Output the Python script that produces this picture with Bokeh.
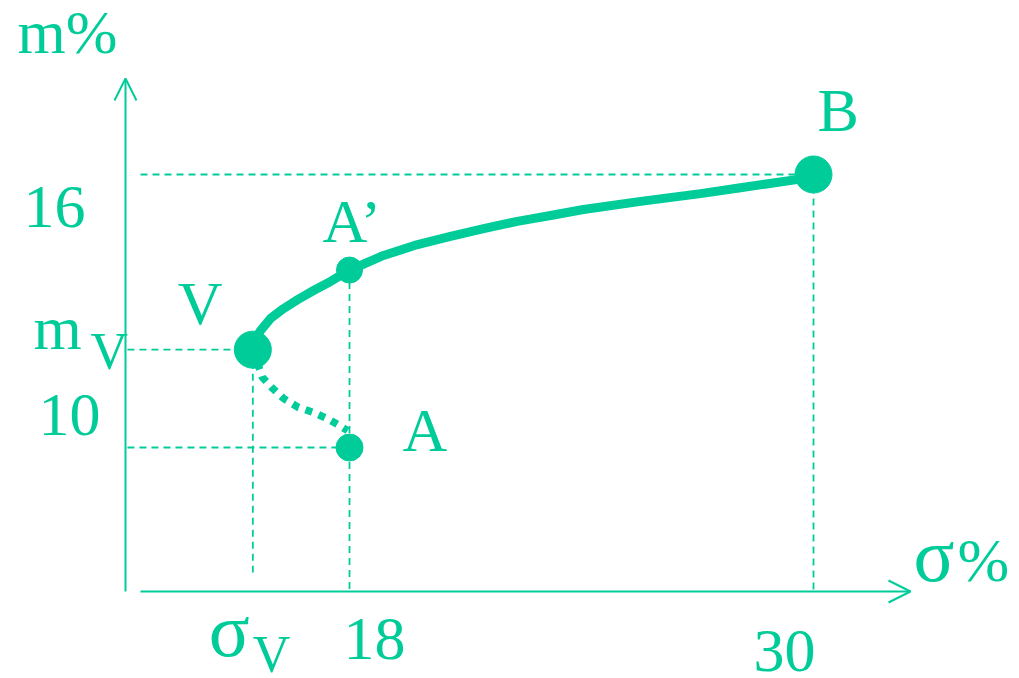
from bokeh.plotting import figure
from bokeh.models import Range1d, Arrow, OpenHead, ColumnDataSource
from bokeh.core.properties import value
from bokeh.embed import file_html
from bokeh.resources import INLINE

# ---------------- data ----------------
point_names = ["A", "A\u2019", "V", "B"]
point_sigma = [18, 18, 15.5, 30]
point_m = [10, 13.9, 12.15, 16]
point_sizes = [27, 26, 37, 37]

frontier_sigma = [15.5, 15.57, 15.70, 15.96, 16.29, 16.66, 17.07, 17.51, 18.0, 18.28, 18.88,
                  19.76, 20.61, 21.47, 22.34, 23.20, 24.05, 25.53, 27.08, 28.11, 29.74, 30.0]
frontier_m = [12.15, 12.40, 12.57, 12.84, 13.05, 13.25, 13.45, 13.65, 13.9, 14.00, 14.22,
              14.46, 14.64, 14.81, 14.97, 15.10, 15.23, 15.41, 15.58, 15.71, 15.91, 16.0]

lower_sigma = [15.5, 15.75, 16.01, 16.29, 16.68, 17.07, 17.46, 17.82, 17.95]
lower_m = [12.15, 11.54, 11.30, 11.08, 10.88, 10.77, 10.62, 10.44, 10.37]

x_ticks = [18, 30]
y_ticks = [10, 16]

COLOR = "#00CC99"
FONT = value("Liberation Serif")

# ---------------- scale (px per unit) ----------------
SX = 38.667   # px per sigma unit
SY = 45.5     # px per m unit
W, H = 1019, 678
x0 = 18 - 349 / SX
y1 = 10 + 447 / SY
p = figure(width=W, height=H, output_backend="svg", toolbar_location=None,
           x_range=Range1d(x0, x0 + W / SX), y_range=Range1d(y1 - H / SY, y1),
           x_axis_type=None, y_axis_type=None, min_border=0,
           outline_line_color=None, background_fill_color="white",
           border_fill_color="white")
p.xgrid.visible = False
p.ygrid.visible = False

# axes positions
ax_sigma = 18 - 224 / SX          # vertical axis location
ax_m = 10 - 144 / SY              # horizontal axis location
y_tip = 10 + 369 / SY
x_start = 18 - 209 / SX
x_tip = 18 + 561 / SX

p.add_layout(Arrow(end=OpenHead(size=22, line_color=COLOR, line_width=2),
                   x_start=ax_sigma, y_start=ax_m, x_end=ax_sigma, y_end=y_tip,
                   line_color=COLOR, line_width=2))
p.add_layout(Arrow(end=OpenHead(size=22, line_color=COLOR, line_width=2),
                   x_start=x_start, y_start=ax_m, x_end=x_tip, y_end=ax_m,
                   line_color=COLOR, line_width=2))

A, Ap, V, B = [(s, m) for s, m in zip(point_sigma, point_m)]

# dashed guides
dash = dict(line_color=COLOR, line_width=1.8, line_dash="7 5")
p.multi_line(xs=[[x_start, B[0]], [ax_sigma + 0.05, V[0]], [ax_sigma + 0.05, A[0]]],
             ys=[[B[1], B[1]], [V[1], V[1]], [A[1], A[1]]], **dash)
p.multi_line(xs=[[V[0], V[0]], [Ap[0], Ap[0]], [B[0], B[0]]],
             ys=[[V[1], 10 - 125 / SY], [Ap[1], ax_m], [B[1], ax_m]], **dash)

# curves
p.line(frontier_sigma, frontier_m, line_color=COLOR, line_width=9, line_cap="round", line_join="round")
p.line(lower_sigma, lower_m, line_color=COLOR, line_width=7.5, line_dash="7 7")

# points
src = ColumnDataSource(dict(x=point_sigma, y=point_m, s=point_sizes))
p.scatter("x", "y", size="s", source=src, marker="circle", fill_color=COLOR, line_color=COLOR)

# labels
def lab(x, y, t, dx, dy, size=62):
    p.text(x=[x], y=[y], text=[t], x_offset=dx, y_offset=dy - round(0.385 * size),
           text_font=FONT, text_font_size=f"{size}px", text_color=COLOR,
           text_align="left", text_baseline="alphabetic")

lab(B[0], B[1], point_names[3], 4, -41)
lab(Ap[0], Ap[1], point_names[1], -27, -25)
lab(A[0], A[1], point_names[0], 53, 6)
lab(V[0], V[1], point_names[2], -75, -23)
lab(ax_sigma, V[1], "m", -92, 2)
lab(ax_sigma, V[1], "V", -35, 22, 52)
lab(ax_sigma, y_ticks[1], str(y_ticks[1]), -102, 56)
lab(ax_sigma, y_ticks[0], str(y_ticks[0]), -87, -9)
lab(V[0], ax_m, "\u03c3", -44, 67, 76)
lab(V[0], ax_m, "V", 0, 83, 52)
lab(x_ticks[0], ax_m, str(x_ticks[0]), -6, 71)
lab(x_ticks[1], ax_m, str(x_ticks[1]), -60, 83)
lab(x_tip, ax_m, "\u03c3", 3, -8, 76)
lab(x_tip, ax_m, "%", 47, -8)
lab(ax_sigma, y_tip, "m%", -108, -23)

open("out.html", "w").write(file_html(p, INLINE))
